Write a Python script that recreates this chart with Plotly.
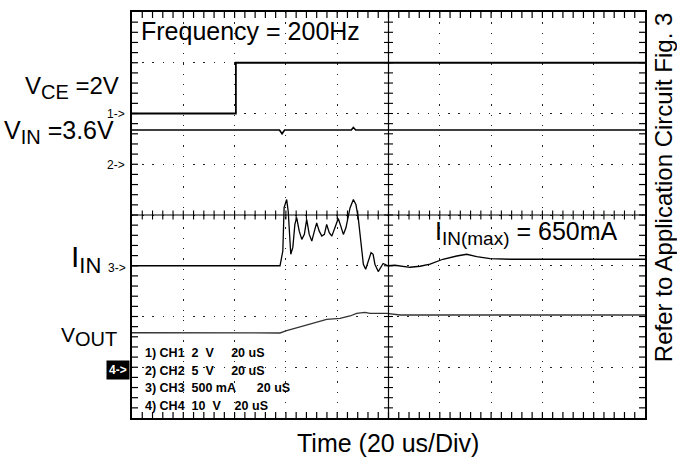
import numpy as np
import plotly.graph_objects as go

# ---------------- data (time in us, 20 us/div) ----------------
ch1_t = [0, 40.5, 40.5, 200]
ch1_v = [0.0, 0.0, 2.0, 2.0]            # V_CE, volts

ch2_t = [0, 57.5, 58.5, 59.5, 85.5, 86.3, 87.2, 200]
ch2_v = [3.38, 3.38, 3.0, 3.38, 3.38, 3.62, 3.38, 3.38]   # V_IN, volts

ch3_t = [0, 57.7, 58.8, 59.3, 60.3, 60.9, 61.9, 62.7, 63.5, 64.2, 65.2, 66.2,
         67.2, 68.1, 69.1, 70.1, 71.1, 72.0, 73.0, 74.0, 75.0, 75.9, 76.9,
         77.9, 79.1, 80.4, 81.4, 82.4, 83.4, 85.0, 86.3, 87.3, 88.2, 89.2,
         90.2, 91.1, 92.1, 93.2, 94.0, 94.7, 96.0, 97.1, 97.9, 99.8, 102.5,
         108.4, 112.3, 116.2, 121.2, 126.6, 130.5, 134.4, 139.6, 147.4, 200]
ch3_v = [0, 0, 145, 573, 652, 537, 113, 181, 407, 475, 341, 260,
         309, 456, 309, 243, 341, 423, 341, 292, 309, 407, 325,
         292, 374, 466, 390, 309, 374, 570, 652, 603, 472, 211,
         15, -34, 47, 129, 113, 15, -57, -18, 22, 0, 5,
         -15, -5, 15, 64, 96, 113, 90, 71, 64, 64]     # I_IN, mA

ch4_t = [0, 57.7, 60.3, 65.5, 70.7, 75.9, 81.1, 85.0, 87.6, 90.8, 92.8, 99.3, 104.5, 200]
ch4_v = [6.8, 6.75, 7.2, 8.0, 8.67, 9.45, 9.65, 10.1, 10.63, 10.82, 10.63, 10.63, 10.3, 10.3]  # V_OUT, volts

ch_scale = {1: 2.0, 2: 5.0, 3: 500.0, 4: 10.0}     # units per division
ch_pos = {1: 6, 2: 5, 3: 3, 4: 1}                   # marker division (from bottom)

legend_lines = ["1)\u00a0CH1\u00a0\u00a02\u00a0\u00a0V\u00a0\u00a0\u00a0\u00a0\u00a020\u00a0uS",
                "2)\u00a0CH2\u00a0\u00a05\u00a0\u00a0V\u00a0\u00a0\u00a0\u00a0\u00a020\u00a0uS",
                "3)\u00a0CH3\u00a0\u00a0500\u00a0mA\u00a0\u00a0\u00a0\u00a0\u00a0\u00a020\u00a0uS",
                "4)\u00a0CH4\u00a0\u00a010\u00a0\u00a0V\u00a0\u00a0\u00a0\u00a020\u00a0uS"]

FONT = "Liberation Sans, Arial, Helvetica, sans-serif"
W, H = 677, 461
L, R, T, B = 132, 32, 10, 43
PW, PH = W - L - R, H - T - B


def to_div(vals, ch):
    return [ch_pos[ch] + v / ch_scale[ch] for v in vals]


def P(x, y):
    return dict(x=(x - L) / PW, y=(H - B - y) / PH, xref="paper", yref="paper")


fig = go.Figure()

# graticule tick marks every 0.2 div
tx = np.arange(4, 200, 4)
ty = np.arange(0.2, 8, 0.2)
EDGE = 6     # inward edge tick length, px
HALF = 4.5   # half length of centre-cross ticks, px
shapes = []
for t in tx:
    shapes.append(dict(type="line", xref="x", yref="paper", ysizemode="pixel", yanchor=0,
                       x0=t, x1=t, y0=0, y1=EDGE, line=dict(color="black", width=1.2)))
    shapes.append(dict(type="line", xref="x", yref="paper", ysizemode="pixel", yanchor=1,
                       x0=t, x1=t, y0=0, y1=-EDGE, line=dict(color="black", width=1.2)))
    shapes.append(dict(type="line", xref="x", yref="y", ysizemode="pixel", yanchor=4,
                       x0=t, x1=t, y0=-HALF, y1=HALF, line=dict(color="black", width=1.1)))
for v in ty:
    shapes.append(dict(type="line", yref="y", xref="paper", xsizemode="pixel", xanchor=0,
                       y0=v, y1=v, x0=0, x1=EDGE, line=dict(color="black", width=1.2)))
    shapes.append(dict(type="line", yref="y", xref="paper", xsizemode="pixel", xanchor=1,
                       y0=v, y1=v, x0=0, x1=-EDGE, line=dict(color="black", width=1.2)))
    shapes.append(dict(type="line", yref="y", xref="x", xsizemode="pixel", xanchor=100,
                       y0=v, y1=v, x0=-HALF, x1=HALF, line=dict(color="black", width=1.1)))
shapes.append(dict(type="line", x0=100, x1=100, y0=0, y1=8, xref="x", yref="y",
                   line=dict(color="black", width=1.2)))
shapes.append(dict(type="line", x0=0, x1=200, y0=4, y1=4, xref="x", yref="y",
                   line=dict(color="black", width=1.2)))

fig.add_trace(go.Scatter(x=ch1_t, y=to_div(ch1_v, 1), mode="lines",
                         line=dict(color="black", width=1.8), hoverinfo="skip"))
fig.add_trace(go.Scatter(x=ch2_t, y=to_div(ch2_v, 2), mode="lines",
                         line=dict(color="black", width=1.6), hoverinfo="skip"))
fig.add_trace(go.Scatter(x=ch3_t, y=to_div(ch3_v, 3), mode="lines",
                         line=dict(color="black", width=1.3), hoverinfo="skip"))
fig.add_trace(go.Scatter(x=ch4_t, y=to_div(ch4_v, 4), mode="lines",
                         line=dict(color="#333333", width=1.3), hoverinfo="skip"))

ann = []


def add(text, x, y, size, xanchor="left", yanchor="middle", **kw):
    d = P(x, y)
    d.update(text=text, showarrow=False, xanchor=xanchor, yanchor=yanchor,
             font=dict(family=FONT, size=size, color=kw.pop("color", "black")))
    d.update(kw)
    ann.append(d)


add("Frequency = 200Hz", 139, 29, 25)
add("Refer to Application Circuit Fig. 3", 663, 186, 24, xanchor="center", textangle=-90)
add("Time (20 us/Div)", 388, 443, 25, xanchor="center")

add("V<sub><span style='font-size:20px'>CE</span></sub> =2V", 121, 86, 24, xanchor="right")
add("V<sub><span style='font-size:20px'>IN</span></sub> =3.6V", 116, 131, 25, xanchor="right")
add("1-&gt;", 127, 112, 12, xanchor="right")
add("2-&gt;", 127, 164, 12, xanchor="right")
add("I<sub><span style='font-size:22px'>IN</span></sub>", 103, 258, 30, xanchor="right")
add("3-&gt;", 128, 267, 12, xanchor="right")
add("V<sub><span style='font-size:20px'>OUT</span></sub>", 119, 336, 21, xanchor="right")
add("<b>4-&gt;</b>", 130, 369.5, 12, xanchor="right", color="white", bgcolor="black", borderpad=2)
add("I<sub><span style='font-size:19px'>IN(max)</span></sub> = 650mA", 433, 232, 25)

for i, line in enumerate(legend_lines):
    add("<b>" + line + "</b>", 143, 353 + i * 17.6, 12.5)

fig.update_layout(
    width=W, height=H, margin=dict(l=L, r=R, t=T, b=B, pad=0),
    paper_bgcolor="white", plot_bgcolor="white", showlegend=False,
    annotations=ann, shapes=shapes,
    xaxis=dict(range=[0, 200], dtick=20, tick0=0, showgrid=True, gridcolor="#222222",
               gridwidth=1.3, griddash="1.3px,8.96px", zeroline=False,
               showline=True, linecolor="black", linewidth=1.5, mirror=True,
               ticks="", showticklabels=False),
    yaxis=dict(range=[0, 8], dtick=1, tick0=0, showgrid=True, gridcolor="#222222",
               gridwidth=1.3, griddash="1.3px,8.9px", zeroline=False,
               showline=True, linecolor="black", linewidth=1.5, mirror=True,
               ticks="", showticklabels=False),
)

fig.write_html("out.html")
